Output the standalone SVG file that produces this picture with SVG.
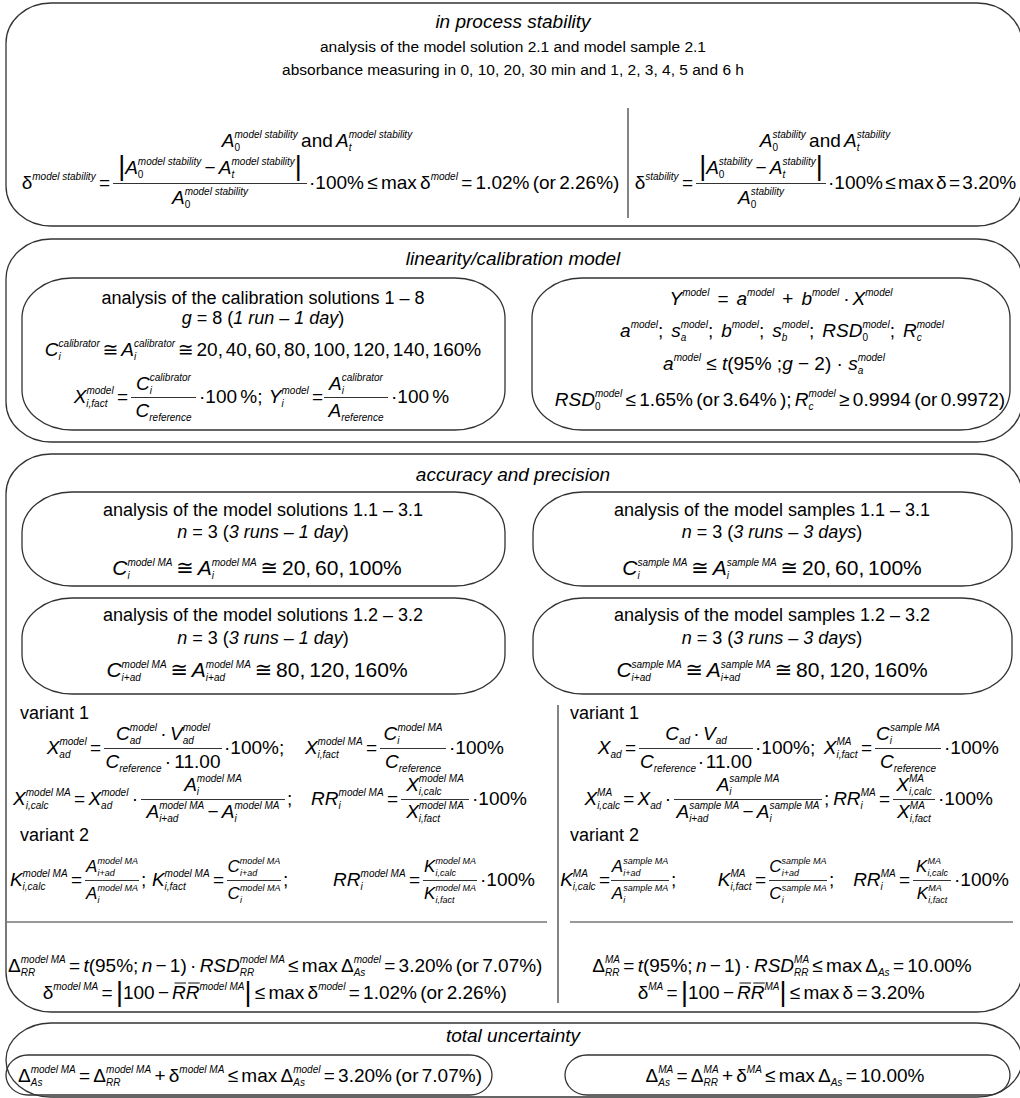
<svg xmlns="http://www.w3.org/2000/svg" width="1020" height="1098" viewBox="0 0 1020 1098">
<defs><style>
text{font-family:"Liberation Sans","DejaVu Sans",sans-serif;fill:#000}
.t{font-size:18px;text-anchor:middle}
.t2{font-size:15.5px;text-anchor:middle}
.tl{font-size:18px}
.ti{font-size:19px;font-style:italic;text-anchor:middle}
.f{font-size:19px;word-spacing:-2px}
.f20{font-size:21px;word-spacing:-2px}
.fs{font-size:17px;word-spacing:-2px}
.v{font-style:italic}
.s{font-size:10px;font-style:italic;word-spacing:0}
.su{font-size:10px;font-style:normal}
.ss{font-size:9px;font-style:italic;word-spacing:0}
.b{font-size:27px;font-style:normal}
.m{text-anchor:middle}
.e{text-anchor:end}
.box{fill:none;stroke:#333;stroke-width:1.3}
.rl{stroke:#333;stroke-width:1.2}
</style></defs>
<rect width="1020" height="1098" fill="#fff"/>

<g id="sec-stability">
<rect class="box" x="6" y="3" width="1016" height="223" rx="45" ry="40"/>
<text class="ti" x="513" y="28">in process stability</text>
<text class="t2" x="513" y="52">analysis of the model solution 2.1 and model sample 2.1</text>
<text class="t2" x="513" y="75">absorbance measuring in 0, 10, 20, 30 min and 1, 2, 3, 4, 5 and 6 h</text>
<text class="f m" x="317" y="147"><tspan class="v">A</tspan><tspan class="su" dy="4">0</tspan><tspan class="s" dx="-5.6" dy="-13">model stability</tspan><tspan dy="9"> and </tspan><tspan class="v">A</tspan><tspan class="s" dy="4">t</tspan><tspan class="s" dx="-2.8" dy="-13">model stability</tspan></text>
<text class="f e" x="110" y="189">δ<tspan class="s" dy="-9">model stability</tspan><tspan dy="9"> =</tspan></text>
<text class="f m" x="210" y="174"><tspan class="b" dy="1">|</tspan><tspan class="v" dy="-1">A</tspan><tspan class="su" dy="4">0</tspan><tspan class="s" dx="-5.6" dy="-13">model stability</tspan><tspan dy="9"> − </tspan><tspan class="v">A</tspan><tspan class="s" dy="4">t</tspan><tspan class="s" dx="-2.8" dy="-13">model stability</tspan><tspan class="b" dy="10">|</tspan></text>
<line class="rl" x1="113" y1="183.5" x2="307" y2="183.5"/>
<text class="f m" x="210" y="204"><tspan class="v">A</tspan><tspan class="su" dy="4">0</tspan><tspan class="s" dx="-5.6" dy="-13">model stability</tspan></text>
<text class="f" x="309" y="189">·100% ≤ max δ<tspan class="s" dy="-9">model</tspan><tspan dy="9"> = 1.02% (or 2.26%)</tspan></text>

<text class="f m" x="825" y="147"><tspan class="v">A</tspan><tspan class="su" dy="4">0</tspan><tspan class="s" dx="-5.6" dy="-13">stability</tspan><tspan dy="9"> and </tspan><tspan class="v">A</tspan><tspan class="s" dy="4">t</tspan><tspan class="s" dx="-2.8" dy="-13">stability</tspan></text>
<text class="f e" x="693" y="189">δ<tspan class="s" dy="-9">stability</tspan><tspan dy="9"> =</tspan></text>
<text class="f m" x="761" y="174"><tspan class="b" dy="1">|</tspan><tspan class="v" dy="-1">A</tspan><tspan class="su" dy="4">0</tspan><tspan class="s" dx="-5.6" dy="-13">stability</tspan><tspan dy="9"> − </tspan><tspan class="v">A</tspan><tspan class="s" dy="4">t</tspan><tspan class="s" dx="-2.8" dy="-13">stability</tspan><tspan class="b" dy="10">|</tspan></text>
<line class="rl" x1="696" y1="183.5" x2="826" y2="183.5"/>
<text class="f m" x="761" y="204"><tspan class="v">A</tspan><tspan class="su" dy="4">0</tspan><tspan class="s" dx="-5.6" dy="-13">stability</tspan></text>
<text class="f" x="828" y="189" style="word-spacing:-3px">·100% ≤ max δ = 3.20%</text>
</g>

<g id="sec-linearity">
<rect class="box" x="6" y="239" width="1016" height="203" rx="45" ry="40"/>
<text class="ti" x="513" y="265">linearity/calibration model</text>
<g id="box-calibration">
<rect class="box" x="22" y="278" width="483" height="152" rx="50" ry="40"/>
<text class="t" x="263" y="304">analysis of the calibration solutions 1 – 8</text>
<text class="t" x="263" y="324"><tspan class="v">g</tspan> = 8 (<tspan class="v">1 run – 1 day</tspan>)</text>
<text class="f m" x="263" y="356" style="word-spacing:-2.5px"><tspan class="v">C</tspan><tspan class="s" dy="4">i</tspan><tspan class="s" dx="-2.2" dy="-13">calibrator</tspan><tspan dy="9"> ≅ </tspan><tspan class="v">A</tspan><tspan class="s" dy="4">i</tspan><tspan class="s" dx="-2.2" dy="-13">calibrator</tspan><tspan dy="9"> ≅ 20, 40, 60, 80, 100, 120, 140, 160%</tspan></text>
<text class="f e" x="128" y="403"><tspan class="v">X</tspan><tspan class="s" dy="4">i,fact</tspan><tspan class="s" dx="-21.1" dy="-13">model</tspan><tspan dy="9"> =</tspan></text>
<text class="f m" x="163.5" y="390"><tspan class="v">C</tspan><tspan class="s" dy="4">i</tspan><tspan class="s" dx="-2.2" dy="-13">calibrator</tspan></text>
<line class="rl" x1="131" y1="397.5" x2="196" y2="397.5"/>
<text class="f m" x="163.5" y="417"><tspan class="v">C</tspan><tspan class="s" dy="4">reference</tspan></text>
<text class="f" x="199" y="403">·100 %; <tspan class="v" dx="3">Y</tspan><tspan class="s" dy="4">i</tspan><tspan class="s" dx="-2.2" dy="-13">model</tspan><tspan dy="9"> =</tspan></text>
<text class="f m" x="356" y="390"><tspan class="v">A</tspan><tspan class="s" dy="4">i</tspan><tspan class="s" dx="-2.2" dy="-13">calibrator</tspan></text>
<line class="rl" x1="324" y1="397.5" x2="388" y2="397.5"/>
<text class="f m" x="356" y="417"><tspan class="v">A</tspan><tspan class="s" dy="4">reference</tspan></text>
<text class="f" x="391" y="403">·100 %</text>
</g>
<g id="box-model">
<rect class="box" x="532" y="278" width="478" height="152" rx="50" ry="40"/>
<text class="f m" x="781" y="305"><tspan class="v">Y</tspan><tspan class="s" dy="-9">model</tspan><tspan dy="9" dx="8">=</tspan><tspan class="v" dx="8">a</tspan><tspan class="s" dy="-9">model</tspan><tspan dy="9" dx="8">+</tspan><tspan class="v" dx="8">b</tspan><tspan class="s" dy="-9">model</tspan><tspan dy="9" dx="4">·</tspan><tspan class="v" dx="3">X</tspan><tspan class="s" dy="-9">model</tspan></text>
<text class="f m" x="782" y="337"><tspan class="v">a</tspan><tspan class="s" dy="-9">model</tspan><tspan dy="9">;</tspan><tspan class="v" dx="8">s</tspan><tspan class="s" dy="4">a</tspan><tspan class="s" dx="-5.6" dy="-13">model</tspan><tspan dy="9">;</tspan><tspan class="v" dx="8">b</tspan><tspan class="s" dy="-9">model</tspan><tspan dy="9">;</tspan><tspan class="v" dx="8">s</tspan><tspan class="s" dy="4">b</tspan><tspan class="s" dx="-5.6" dy="-13">model</tspan><tspan dy="9">;</tspan><tspan class="v" dx="8">RSD</tspan><tspan class="su" dy="4">0</tspan><tspan class="s" dx="-5.6" dy="-13">model</tspan><tspan dy="9">;</tspan><tspan class="v" dx="8">R</tspan><tspan class="s" dy="4">c</tspan><tspan class="s" dx="-5" dy="-13">model</tspan></text>
<text class="f m" x="774" y="370" style="word-spacing:0"><tspan class="v">a</tspan><tspan class="s" dy="-9">model</tspan><tspan dy="9"> ≤ </tspan><tspan class="v">t</tspan>(95% ;<tspan class="v">g</tspan> − 2) · <tspan class="v">s</tspan><tspan class="s" dy="4">a</tspan><tspan class="s" dx="-5.6" dy="-13">model</tspan></text>
<text class="f m" x="780" y="406"><tspan class="v">RSD</tspan><tspan class="su" dy="4">0</tspan><tspan class="s" dx="-5.6" dy="-13">model</tspan><tspan dy="9"> ≤ 1.65% (or 3.64% ); </tspan><tspan class="v">R</tspan><tspan class="s" dy="4">c</tspan><tspan class="s" dx="-5" dy="-13">model</tspan><tspan dy="9"> ≥ 0.9994 (or 0.9972)</tspan></text>
</g>
</g>

<g id="sec-accuracy">
<rect class="box" x="6" y="454" width="1016" height="558" rx="45" ry="40"/>
<text class="ti" x="513" y="481">accuracy and precision</text>
<g id="box-solutions-1">
<rect class="box" x="22" y="492" width="483" height="94" rx="50" ry="40"/>
<text class="t" x="263" y="516">analysis of the model solutions 1.1 – 3.1</text>
<text class="t" x="263" y="538"><tspan class="v">n</tspan> = 3 (<tspan class="v">3 runs – 1 day</tspan>)</text>
<text class="f20 m" x="257" y="575"><tspan class="v">C</tspan><tspan class="s" dy="4">i</tspan><tspan class="s" dx="-2.2" dy="-13">model MA</tspan><tspan dy="9"> ≅ </tspan><tspan class="v">A</tspan><tspan class="s" dy="4">i</tspan><tspan class="s" dx="-2.2" dy="-13">model MA</tspan><tspan dy="9"> ≅ 20, 60, 100%</tspan></text>
</g>
<g id="box-samples-1">
<rect class="box" x="533" y="492" width="479" height="94" rx="50" ry="40"/>
<text class="t" x="772" y="516">analysis of the model samples 1.1 – 3.1</text>
<text class="t" x="772" y="538"><tspan class="v">n</tspan> = 3 (<tspan class="v">3 runs – 3 days</tspan>)</text>
<text class="f20 m" x="772" y="575"><tspan class="v">C</tspan><tspan class="s" dy="4">i</tspan><tspan class="s" dx="-2.2" dy="-13">sample MA</tspan><tspan dy="9"> ≅ </tspan><tspan class="v">A</tspan><tspan class="s" dy="4">i</tspan><tspan class="s" dx="-2.2" dy="-13">sample MA</tspan><tspan dy="9"> ≅ 20, 60, 100%</tspan></text>
</g>
<g id="box-solutions-2">
<rect class="box" x="22" y="598" width="483" height="96" rx="50" ry="40"/>
<text class="t" x="263" y="621">analysis of the model solutions 1.2 – 3.2</text>
<text class="t" x="263" y="644"><tspan class="v">n</tspan> = 3 (<tspan class="v">3 runs – 1 day</tspan>)</text>
<text class="f20 m" x="257" y="677"><tspan class="v">C</tspan><tspan class="s" dy="4">i+ad</tspan><tspan class="s" dx="-19.2" dy="-13">model MA</tspan><tspan dy="9"> ≅ </tspan><tspan class="v">A</tspan><tspan class="s" dy="4">i+ad</tspan><tspan class="s" dx="-19.2" dy="-13">model MA</tspan><tspan dy="9"> ≅ 80, 120, 160%</tspan></text>
</g>
<g id="box-samples-2">
<rect class="box" x="533" y="598" width="479" height="96" rx="50" ry="40"/>
<text class="t" x="772" y="621">analysis of the model samples 1.2 – 3.2</text>
<text class="t" x="772" y="644"><tspan class="v">n</tspan> = 3 (<tspan class="v">3 runs – 3 days</tspan>)</text>
<text class="f20 m" x="772" y="677"><tspan class="v">C</tspan><tspan class="s" dy="4">i+ad</tspan><tspan class="s" dx="-19.2" dy="-13">sample MA</tspan><tspan dy="9"> ≅ </tspan><tspan class="v">A</tspan><tspan class="s" dy="4">i+ad</tspan><tspan class="s" dx="-19.2" dy="-13">sample MA</tspan><tspan dy="9"> ≅ 80, 120, 160%</tspan></text>
</g>

<g id="calc-model">
<text class="tl" x="20" y="719">variant 1</text>
<text class="f e" x="101" y="754"><tspan class="v">X</tspan><tspan class="s" dy="4">ad</tspan><tspan class="s" dx="-11.1" dy="-13">model</tspan><tspan dy="9"> =</tspan></text>
<text class="f m" x="163" y="740"><tspan class="v">C</tspan><tspan class="s" dy="4">ad</tspan><tspan class="s" dx="-11.1" dy="-13">model</tspan><tspan dy="9"> · </tspan><tspan class="v">V</tspan><tspan class="s" dy="4">ad</tspan><tspan class="s" dx="-11.1" dy="-13">model</tspan></text>
<line class="rl" x1="104" y1="748.5" x2="222" y2="748.5"/>
<text class="f m" x="163" y="768"><tspan class="v">C</tspan><tspan class="s" dy="4">reference</tspan><tspan dy="-4"> · 11.00</tspan></text>
<text class="f" x="224" y="754">·100%;</text>
<text class="f e" x="377" y="754"><tspan class="v">X</tspan><tspan class="s" dy="4">i,fact</tspan><tspan class="s" dx="-21.1" dy="-13">model MA</tspan><tspan dy="9"> =</tspan></text>
<text class="f m" x="413" y="740"><tspan class="v">C</tspan><tspan class="s" dy="4">i</tspan><tspan class="s" dx="-2.2" dy="-13">model MA</tspan></text>
<line class="rl" x1="380" y1="748.5" x2="446" y2="748.5"/>
<text class="f m" x="413" y="768"><tspan class="v">C</tspan><tspan class="s" dy="4">reference</tspan></text>
<text class="f" x="449" y="754">·100%</text>

<text class="f e" x="138" y="805"><tspan class="v">X</tspan><tspan class="s" dy="4">i,calc</tspan><tspan class="s" dx="-22.8" dy="-13">model MA</tspan><tspan dy="9"> = </tspan><tspan class="v">X</tspan><tspan class="s" dy="4">ad</tspan><tspan class="s" dx="-11.1" dy="-13">model</tspan><tspan dy="9"> ·</tspan></text>
<text class="f m" x="213" y="791"><tspan class="v">A</tspan><tspan class="s" dy="4">i</tspan><tspan class="s" dx="-2.2" dy="-13">model MA</tspan></text>
<line class="rl" x1="141" y1="799.5" x2="285" y2="799.5"/>
<text class="f m" x="213" y="818"><tspan class="v">A</tspan><tspan class="s" dy="4">i+ad</tspan><tspan class="s" dx="-19.2" dy="-13">model MA</tspan><tspan dy="9"> − </tspan><tspan class="v">A</tspan><tspan class="s" dy="4">i</tspan><tspan class="s" dx="-2.2" dy="-13">model MA</tspan></text>
<text class="f" x="287" y="805">;</text>
<text class="f e" x="398" y="805"><tspan class="v">RR</tspan><tspan class="s" dy="4">i</tspan><tspan class="s" dx="-2.2" dy="-13">model MA</tspan><tspan dy="9"> =</tspan></text>
<text class="f m" x="435" y="791"><tspan class="v">X</tspan><tspan class="s" dy="4">i,calc</tspan><tspan class="s" dx="-22.8" dy="-13">model MA</tspan></text>
<line class="rl" x1="401" y1="799.5" x2="469" y2="799.5"/>
<text class="f m" x="435" y="818"><tspan class="v">X</tspan><tspan class="s" dy="4">i,fact</tspan><tspan class="s" dx="-21.1" dy="-13">model MA</tspan></text>
<text class="f" x="472" y="805">·100%</text>

<text class="tl" x="20" y="841">variant 2</text>
<text class="f e" x="82" y="886"><tspan class="v">K</tspan><tspan class="s" dy="4">i,calc</tspan><tspan class="s" dx="-22.8" dy="-13">model MA</tspan><tspan dy="9"> =</tspan></text>
<text class="fs m" x="112" y="872"><tspan class="v">A</tspan><tspan class="ss" dy="4">i+ad</tspan><tspan class="ss" dx="-17.3" dy="-12">model MA</tspan></text>
<line class="rl" x1="85" y1="880.5" x2="139" y2="880.5"/>
<text class="fs m" x="112" y="899"><tspan class="v">A</tspan><tspan class="ss" dy="4">i</tspan><tspan class="ss" dx="-2" dy="-12">model MA</tspan></text>
<text class="f" x="141" y="886">;</text>
<text class="f e" x="224" y="886"><tspan class="v">K</tspan><tspan class="s" dy="4">i,fact</tspan><tspan class="s" dx="-21.1" dy="-13">model MA</tspan><tspan dy="9"> =</tspan></text>
<text class="fs m" x="254" y="872"><tspan class="v">C</tspan><tspan class="ss" dy="4">i+ad</tspan><tspan class="ss" dx="-17.3" dy="-12">model MA</tspan></text>
<line class="rl" x1="227" y1="880.5" x2="281" y2="880.5"/>
<text class="fs m" x="254" y="899"><tspan class="v">C</tspan><tspan class="ss" dy="4">i</tspan><tspan class="ss" dx="-2" dy="-12">model MA</tspan></text>
<text class="f" x="283" y="886">;</text>
<text class="f e" x="420" y="886"><tspan class="v">RR</tspan><tspan class="s" dy="4">i</tspan><tspan class="s" dx="-2.2" dy="-13">model MA</tspan><tspan dy="9"> =</tspan></text>
<text class="fs m" x="450" y="872"><tspan class="v">K</tspan><tspan class="ss" dy="4">i,calc</tspan><tspan class="ss" dx="-20.5" dy="-12">model MA</tspan></text>
<line class="rl" x1="423" y1="880.5" x2="477" y2="880.5"/>
<text class="fs m" x="450" y="899"><tspan class="v">K</tspan><tspan class="ss" dy="4">i,fact</tspan><tspan class="ss" dx="-19" dy="-12">model MA</tspan></text>
<text class="f" x="480" y="886">·100%</text>

<text class="f" x="8" y="972">Δ<tspan class="s" dy="4">RR</tspan><tspan class="s" dx="-14.4" dy="-13">model MA</tspan><tspan dy="9"> = </tspan><tspan class="v">t</tspan>(95%; <tspan class="v">n</tspan> − 1) · <tspan class="v">RSD</tspan><tspan class="s" dy="4">RR</tspan><tspan class="s" dx="-14.4" dy="-13">model MA</tspan><tspan dy="9"> ≤ max Δ</tspan><tspan class="s" dy="4">As</tspan><tspan class="s" dx="-11.7" dy="-13">model</tspan><tspan dy="9"> = 3.20% (or 7.07%)</tspan></text>
<text class="f e" x="169" y="999">δ<tspan class="s" dy="-9">model MA</tspan><tspan dy="9"> = </tspan><tspan class="b" dy="2">|</tspan><tspan dy="-2">100 −</tspan></text>
<text class="f v" x="172" y="999">RR</text>
<line class="rl" x1="174.5" y1="983" x2="186" y2="983"/>
<line class="rl" x1="188.2" y1="983" x2="199.7" y2="983"/>
<text class="f" x="199.4" y="999"><tspan class="s" dy="-9">model MA</tspan><tspan class="b" dy="11">|</tspan><tspan dy="-2"> ≤ max δ</tspan><tspan class="s" dy="-9">model</tspan><tspan dy="9"> = 1.02% (or 2.26%)</tspan></text>
</g>

<g id="calc-sample">
<text class="tl" x="570" y="719">variant 1</text>
<text class="f e" x="636" y="754"><tspan class="v">X</tspan><tspan class="s" dy="4">ad</tspan><tspan dy="-4"> =</tspan></text>
<text class="f m" x="696" y="740"><tspan class="v">C</tspan><tspan class="s" dy="4">ad</tspan><tspan dy="-4"> · </tspan><tspan class="v">V</tspan><tspan class="s" dy="4">ad</tspan></text>
<line class="rl" x1="639" y1="748.5" x2="753" y2="748.5"/>
<text class="f m" x="696" y="768" style="word-spacing:-3.5px"><tspan class="v">C</tspan><tspan class="s" dy="4">reference</tspan><tspan dy="-4"> · 11.00</tspan></text>
<text class="f" x="755" y="754">·100%;</text>
<text class="f e" x="872" y="754"><tspan class="v">X</tspan><tspan class="s" dy="4">i,fact</tspan><tspan class="s" dx="-21.1" dy="-13">MA</tspan><tspan dy="9" dx="6.1"> =</tspan></text>
<text class="f m" x="908" y="740"><tspan class="v">C</tspan><tspan class="s" dy="4">i</tspan><tspan class="s" dx="-2.2" dy="-13">sample MA</tspan></text>
<line class="rl" x1="875" y1="748.5" x2="941" y2="748.5"/>
<text class="f m" x="908" y="768"><tspan class="v">C</tspan><tspan class="s" dy="4">reference</tspan></text>
<text class="f" x="944" y="754">·100%</text>

<text class="f e" x="671" y="805"><tspan class="v">X</tspan><tspan class="s" dy="4">i,calc</tspan><tspan class="s" dx="-22.8" dy="-13">MA</tspan><tspan dy="9" dx="7.8"> = </tspan><tspan class="v">X</tspan><tspan class="s" dy="4">ad</tspan><tspan dy="-4"> ·</tspan></text>
<text class="f m" x="748" y="791"><tspan class="v">A</tspan><tspan class="s" dy="4">i</tspan><tspan class="s" dx="-2.2" dy="-13">sample MA</tspan></text>
<line class="rl" x1="674" y1="799.5" x2="822" y2="799.5"/>
<text class="f m" x="748" y="818"><tspan class="v">A</tspan><tspan class="s" dy="4">i+ad</tspan><tspan class="s" dx="-19.2" dy="-13">sample MA</tspan><tspan dy="9"> − </tspan><tspan class="v">A</tspan><tspan class="s" dy="4">i</tspan><tspan class="s" dx="-2.2" dy="-13">sample MA</tspan></text>
<text class="f" x="824" y="805">;</text>
<text class="f e" x="890" y="805"><tspan class="v">RR</tspan><tspan class="s" dy="4">i</tspan><tspan class="s" dx="-2.2" dy="-13">MA</tspan><tspan dy="9"> =</tspan></text>
<text class="f m" x="914" y="791"><tspan class="v">X</tspan><tspan class="s" dy="4">i,calc</tspan><tspan class="s" dx="-22.8" dy="-13">MA</tspan></text>
<line class="rl" x1="893" y1="799.5" x2="935" y2="799.5"/>
<text class="f m" x="914" y="818"><tspan class="v">X</tspan><tspan class="s" dy="4">i,fact</tspan><tspan class="s" dx="-21.1" dy="-13">MA</tspan></text>
<text class="f" x="938" y="805">·100%</text>

<text class="tl" x="570" y="841">variant 2</text>
<text class="f e" x="610" y="886"><tspan class="v">K</tspan><tspan class="s" dy="4">i,calc</tspan><tspan class="s" dx="-22.8" dy="-13">MA</tspan><tspan dy="9" dx="7.8"> =</tspan></text>
<text class="fs m" x="640" y="872"><tspan class="v">A</tspan><tspan class="ss" dy="4">i+ad</tspan><tspan class="ss" dx="-17.3" dy="-12">sample MA</tspan></text>
<line class="rl" x1="611" y1="880.5" x2="669" y2="880.5"/>
<text class="fs m" x="640" y="899"><tspan class="v">A</tspan><tspan class="ss" dy="4">i</tspan><tspan class="ss" dx="-2" dy="-12">sample MA</tspan></text>
<text class="f" x="671" y="886">;</text>
<text class="f e" x="766" y="886"><tspan class="v">K</tspan><tspan class="s" dy="4">i,fact</tspan><tspan class="s" dx="-21.1" dy="-13">MA</tspan><tspan dy="9" dx="6.1"> =</tspan></text>
<text class="fs m" x="798" y="872"><tspan class="v">C</tspan><tspan class="ss" dy="4">i+ad</tspan><tspan class="ss" dx="-17.3" dy="-12">sample MA</tspan></text>
<line class="rl" x1="769" y1="880.5" x2="827" y2="880.5"/>
<text class="fs m" x="798" y="899"><tspan class="v">C</tspan><tspan class="ss" dy="4">i</tspan><tspan class="ss" dx="-2" dy="-12">sample MA</tspan></text>
<text class="f" x="829" y="886">;</text>
<text class="f e" x="910" y="886"><tspan class="v">RR</tspan><tspan class="s" dy="4">i</tspan><tspan class="s" dx="-2.2" dy="-13">MA</tspan><tspan dy="9"> =</tspan></text>
<text class="fs m" x="932" y="872"><tspan class="v">K</tspan><tspan class="ss" dy="4">i,calc</tspan><tspan class="ss" dx="-20.5" dy="-12">MA</tspan></text>
<line class="rl" x1="913" y1="880.5" x2="951" y2="880.5"/>
<text class="fs m" x="932" y="899"><tspan class="v">K</tspan><tspan class="ss" dy="4">i,fact</tspan><tspan class="ss" dx="-19" dy="-12">MA</tspan></text>
<text class="f" x="954" y="886">·100%</text>

<text class="f m" x="782" y="972">Δ<tspan class="s" dy="4">RR</tspan><tspan class="s" dx="-14.4" dy="-13">MA</tspan><tspan dy="9"> = </tspan><tspan class="v">t</tspan>(95%; <tspan class="v">n</tspan> − 1) · <tspan class="v">RSD</tspan><tspan class="s" dy="4">RR</tspan><tspan class="s" dx="-14.4" dy="-13">MA</tspan><tspan dy="9"> ≤ max Δ</tspan><tspan class="s" dy="4">As</tspan><tspan dy="-4"> = 10.00%</tspan></text>
<text class="f e" x="734" y="999">δ<tspan class="s" dy="-9">MA</tspan><tspan dy="9"> = </tspan><tspan class="b" dy="2">|</tspan><tspan dy="-2">100 −</tspan></text>
<text class="f v" x="737" y="999">RR</text>
<line class="rl" x1="739.5" y1="983" x2="751" y2="983"/>
<line class="rl" x1="753.2" y1="983" x2="764.7" y2="983"/>
<text class="f" x="764.4" y="999"><tspan class="s" dy="-9">MA</tspan><tspan class="b" dy="11">|</tspan><tspan dy="-2"> ≤ max δ = 3.20%</tspan></text>
</g>
</g>

<g id="sec-total">
<rect class="box" x="6" y="1023" width="1016" height="74" rx="45" ry="37"/>
<text class="ti" x="513" y="1042">total uncertainty</text>
<g id="box-total-model">
<rect class="box" x="6" y="1055" width="486" height="40" rx="22" ry="20"/>
<text class="f m" x="250" y="1082">Δ<tspan class="s" dy="4">As</tspan><tspan class="s" dx="-11.7" dy="-13">model MA</tspan><tspan dy="9"> = Δ</tspan><tspan class="s" dy="4">RR</tspan><tspan class="s" dx="-14.4" dy="-13">model MA</tspan><tspan dy="9"> + δ</tspan><tspan class="s" dy="-9">model MA</tspan><tspan dy="9"> ≤ max Δ</tspan><tspan class="s" dy="4">As</tspan><tspan class="s" dx="-11.7" dy="-13">model</tspan><tspan dy="9"> = 3.20% (or 7.07%)</tspan></text>
</g>
<g id="box-total-sample">
<rect class="box" x="565" y="1055" width="445" height="40" rx="22" ry="20"/>
<text class="f m" x="785" y="1082">Δ<tspan class="s" dy="4">As</tspan><tspan class="s" dx="-11.7" dy="-13">MA</tspan><tspan dy="9"> = Δ</tspan><tspan class="s" dy="4">RR</tspan><tspan class="s" dx="-14.4" dy="-13">MA</tspan><tspan dy="9"> + δ</tspan><tspan class="s" dy="-9">MA</tspan><tspan dy="9"> ≤ max Δ</tspan><tspan class="s" dy="4">As</tspan><tspan dy="-4"> = 10.00%</tspan></text>
</g>
</g>

<g id="connectors">
<line class="rl" x1="628" y1="108" x2="628" y2="218"/>
<line class="rl" x1="558" y1="705" x2="558" y2="1003"/>
<line class="rl" x1="7" y1="922" x2="547" y2="922"/>
<line class="rl" x1="570" y1="922" x2="1013" y2="922"/>
</g>
</svg>
